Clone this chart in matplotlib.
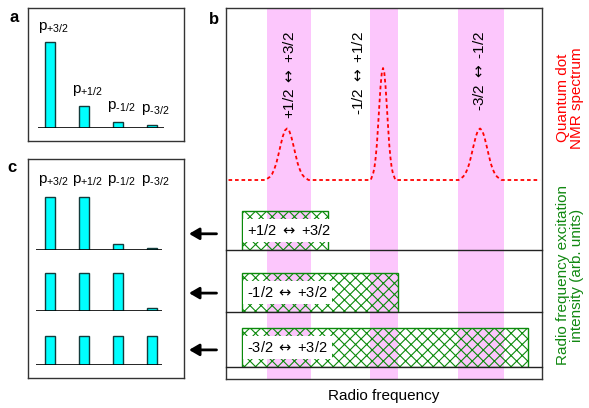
import numpy as np
import matplotlib
matplotlib.use("Agg")
import matplotlib.pyplot as plt

plt.rcParams['font.family'] = ['Liberation Sans', 'DejaVu Sans']
plt.rcParams['mathtext.fontset'] = 'custom'
plt.rcParams['mathtext.rm'] = 'Liberation Sans'
plt.rcParams['mathtext.it'] = 'Liberation Sans'
plt.rcParams['mathtext.sf'] = 'DejaVu Sans'
plt.rcParams['hatch.linewidth'] = 0.8

# ---- data ----
pop_labels = [r'p$_{\text{+3/2}}$', r'p$_{\text{+1/2}}$', r'p$_{\text{-1/2}}$', r'p$_{\text{-3/2}}$']
pop_thermal = [0.74, 0.19, 0.052, 0.026]          # panel a
pop_rows = [[0.457, 0.457, 0.052, 0.017],         # panel c, after each excitation
            [0.328, 0.328, 0.328, 0.026],
            [0.25, 0.25, 0.25, 0.25]]

ARROW = r'$\mathsf{\leftrightarrow}$'

# radio frequency axis in arbitrary units (0..100)
band_lo = [13.0, 45.6, 73.4]
band_hi = [26.9, 54.4, 88.0]
band_names = ['+1/2 ' + ARROW + ' +3/2', '-1/2 ' + ARROW + ' +1/2', '-3/2 ' + ARROW + ' -1/2']

peak_center = [19.3, 49.7, 80.4]
peak_height = [0.46, 1.0, 0.46]
peak_halfwidth = [6.8, 3.9, 6.8]
# line shape (offset in half widths -> relative height)
shape_off = [0.0, 0.1, 0.2, 0.3, 0.4, 0.5, 0.6, 0.7, 0.8, 0.9, 1.0]
shape_val = [1.0, 0.96, 0.84, 0.67, 0.49, 0.32, 0.20, 0.11, 0.06, 0.03, 0.0]
spec_start, spec_end = 0.8, 99.4

exc_start = 5.1
exc_end = [32.3, 54.4, 95.6]
exc_names = ['+1/2 ' + ARROW + ' +3/2', '-1/2 ' + ARROW + ' +3/2', '-3/2 ' + ARROW + ' +3/2']

# ---- layout helpers (pixel boxes) ----
W, H = 589, 408
def rect(x0, y0, x1, y1):
    return [x0 / W, 1 - y1 / H, (x1 - x0) / W, (y1 - y0) / H]

px_per_unit = 116.0
bar_color = '#00ffff'
bar_edge = '#123c3c'

fig = plt.figure(figsize=(W / 100, H / 100), dpi=100)

def frame(r):
    ax = fig.add_axes(r)
    ax.set_xticks([])
    ax.set_yticks([])
    for s in ax.spines.values():
        s.set_linewidth(1.0)
        s.set_color('#333333')
    return ax

def bar_axes(base_px, height_px):
    ax = fig.add_axes(rect(33, base_px - height_px, 169, base_px))
    ax.set_xlim(-0.5, 3.5)
    ax.set_ylim(0, height_px / px_per_unit)
    ax.axis('off')
    return ax

# ---- panel a ----
frame(rect(28, 8, 184, 141))
axA = bar_axes(128, 98)
axA.bar(range(4), pop_thermal, width=0.3, color=bar_color, edgecolor=bar_edge, lw=1, zorder=2)
axA.hlines(0, -0.35, 3.35, color='black', lw=1.2, zorder=3)
for i, (v, lab) in enumerate(zip(pop_thermal, pop_labels)):
    axA.text(i + 0.1, v + 0.13, lab, ha='center', va='center', fontsize=11, clip_on=False)
fig.text(14 / W, 1 - 17 / H, 'a', fontsize=12, fontweight='bold', ha='center', va='center')

# ---- panel c ----
frame(rect(28, 159, 184, 378))
row_bases = [250, 311, 365]
for k, (base, pops) in enumerate(zip(row_bases, pop_rows)):
    ax = bar_axes(base, 60)
    ax.bar(range(4), pops, width=0.3, color=bar_color, edgecolor=bar_edge, lw=1, zorder=2)
    ax.hlines(0, -0.42, 3.3, color='black', lw=1.2, zorder=3)
    if k == 0:
        for i, lab in enumerate(pop_labels):
            ax.text(i + 0.1, (base - 180) / px_per_unit, lab, ha='center', va='center',
                    fontsize=11, clip_on=False)
fig.text(12 / W, 1 - 168 / H, 'c', fontsize=12, fontweight='bold', ha='center', va='center')

# ---- panel b ----
axB = frame(rect(226, 8, 542, 379))
axB.set_xlim(0, 100)
axB.set_ylim(-1.777, 1.536)
for lo, hi in zip(band_lo, band_hi):
    axB.axvspan(lo, hi, color='#fcc6fc', lw=0, zorder=0)

off = np.array(shape_off)
val = np.array(shape_val)
xs, ys = [spec_start], [0.0]
for c, h, w in zip(peak_center, peak_height, peak_halfwidth):
    xs += list(c - off[::-1] * w) + list(c + off[1:] * w)
    ys += list(h * val[::-1]) + list(h * val[1:])
xs.append(spec_end)
ys.append(0.0)
axB.plot(xs, ys, color='red', lw=1.3, dashes=(2, 1.6), zorder=3)

label_x = [20.0, 41.8, 80.1]
for x, name in zip(label_x, band_names):
    axB.text(x, 1.33, name, rotation=90, ha='center', va='top', fontsize=11)

axB.set_xlabel('Radio frequency', fontsize=11, labelpad=7)
fig.text(214 / W, 1 - 19 / H, 'b', fontsize=12, fontweight='bold', ha='center', va='center')

row_line_px = [250, 312, 367]
arrow_frac = [0.36, 0.42, 0.38]
for base, end, name, ay in zip(row_line_px, exc_end, exc_names, arrow_frac):
    ax = fig.add_axes(rect(226, base - 45, 542, base))
    ax.patch.set_alpha(0)
    ax.set_xlim(0, 100)
    ax.set_ylim(0, 1)
    ax.set_xticks([])
    ax.set_yticks([])
    for s in ['top', 'left', 'right']:
        ax.spines[s].set_visible(False)
    ax.spines['bottom'].set_linewidth(1.0)
    ax.spines['bottom'].set_color('#222222')
    ax.barh(0, end - exc_start, left=exc_start, height=0.87, align='edge',
            facecolor='none', edgecolor='#0b8a0b', hatch='xxx', lw=1)
    ax.text(exc_start + 1.5, 0.43, name, ha='left', va='center', fontsize=10.5,
            bbox=dict(facecolor='white', edgecolor='none', pad=3))
    ax.annotate('', xy=(-0.117, ay), xytext=(-0.03, ay), xycoords='axes fraction',
                annotation_clip=False,
                arrowprops=dict(arrowstyle='-|>,head_length=0.6,head_width=0.35',
                                lw=2, color='black', shrinkA=0, shrinkB=0))

fig.text(570 / W, 1 - 98 / H, 'Quantum dot\nNMR spectrum', rotation=90, color='red',
         ha='center', va='center', multialignment='center', fontsize=11, linespacing=1.05)
fig.text(570 / W, 1 - 275 / H, 'Radio frequency excitation\nintensity (arb. units)', rotation=90,
         color='#118811', ha='center', va='center', multialignment='center', fontsize=11,
         linespacing=1.05)

fig.savefig('out.png', dpi=100)
